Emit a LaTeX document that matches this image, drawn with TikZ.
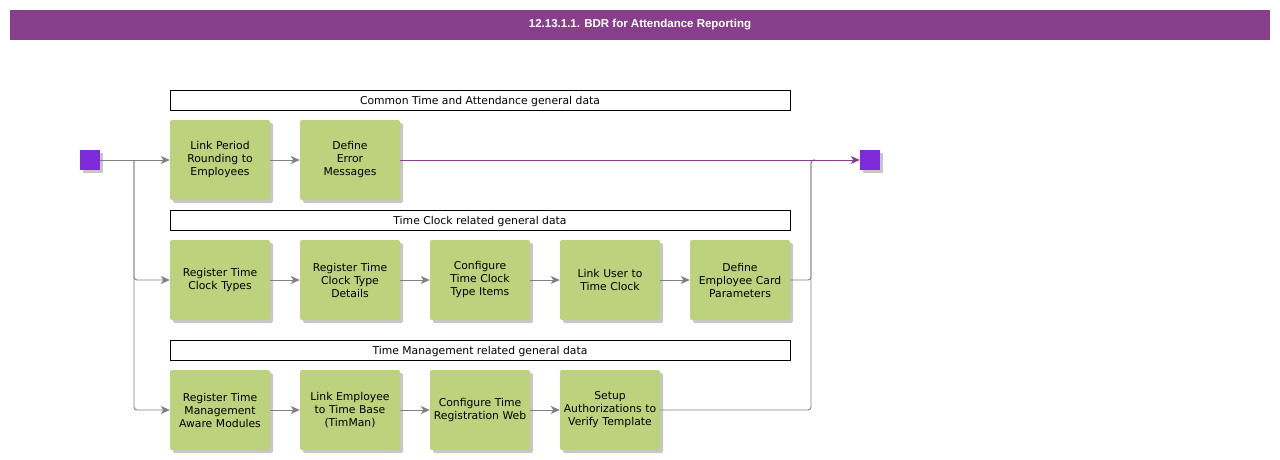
\documentclass[tikz,border=0pt]{standalone}
\usepackage{fontspec}
\setmainfont{DejaVu Sans}
\newfontfamily\titlefont{Liberation Sans}
\usetikzlibrary{shadows,arrows.meta}
\definecolor{barpurple}{HTML}{873F8B}
\definecolor{termviolet}{HTML}{7F2BDB}
\definecolor{taskgreen}{HTML}{BDD27D}
\definecolor{linegray}{HTML}{808080}
\tikzset{
  task/.style={draw=none,fill=taskgreen,rounded corners=2pt,minimum width=100pt,minimum height=80pt,
    inner sep=0pt,text width=100pt,align=center,font=\fontsize{10.8}{13}\selectfont,
    drop shadow={shadow xshift=3pt,shadow yshift=-3pt,fill=black!22,opacity=1}},
  lane/.style={draw=black,fill=white,minimum width=620pt,minimum height=20pt,inner sep=0pt,
    text height=9pt,text depth=1pt,font=\fontsize{10.8}{12}\selectfont},
  term/.style={fill=termviolet,minimum size=20pt,inner sep=0pt,
    drop shadow={shadow xshift=3pt,shadow yshift=-3pt,fill=black!22,opacity=1}},
  flow/.style={draw=linegray,line width=0.9pt,-{Stealth[length=9pt,width=8pt,inset=2.5pt]}},
  joinline/.style={draw=linegray,line width=0.9pt,rounded corners=3pt}
}
\begin{document}
\begin{tikzpicture}[x=1pt,y=-1pt]
  \useasboundingbox (0,0) rectangle (1280,460);
  \node[fill=barpurple,minimum width=1260pt,minimum height=30pt,inner sep=0pt,
    text=white,font=\titlefont\bfseries\fontsize{11.5}{13}\selectfont] (title) at (640,25)
    {12.13.1.1. BDR for Attendance Reporting};

  \node[term] (start) at (90,160) {};
  \node[term] (finish) at (870,160) {};

  \node[lane] (common) at (480,100) {Common Time and Attendance general data};
  \node[lane] (clock) at (480,220) {Time Clock related general data};
  \node[lane] (manage) at (480,350) {Time Management related general data};

  % common data
  \node[task] (lpr) at (220,160) {Link Period\\Rounding to\\Employees};
  \node[task] (dem) at (350,160) {Define\\Error\\Messages};
  % time clock
  \node[task] (rtc) at (220,280) {Register Time\\Clock Types};
  \node[task] (rtd) at (350,280) {Register Time\\Clock Type\\Details};
  \node[task] (cti) at (480,280) {Configure\\Time Clock\\Type Items};
  \node[task] (lut) at (610,280) {Link User to\\Time Clock};
  \node[task] (ecp) at (740,280) {Define\\Employee Card\\Parameters};
  % time management
  \node[task] (rtm) at (220,410) {Register Time\\Management\\Aware Modules};
  \node[task] (lte) at (350,410) {Link Employee\\to Time Base\\(TimMan)};
  \node[task] (ctr) at (480,410) {Configure Time\\Registration Web};
  \node[task] (sav) at (610,410) {Setup\\Authorizations to\\Verify Template};

  \coordinate (split) at (134,160);
  \coordinate (merge) at (811,160);

  \draw[flow] (start) -- (lpr);
  \draw[flow,rounded corners=3pt] (split) |- (rtc);
  \draw[flow,rounded corners=3pt] (split) |- (rtm);
  \draw[flow] (lpr) -- (dem);
  \foreach \a/\b in {rtc/rtd,rtd/cti,cti/lut,lut/ecp,rtm/lte,lte/ctr,ctr/sav}
    \draw[flow] (\a) -- (\b);
  \draw[joinline] (ecp.east) -- (ecp.east -| merge) -- (merge) -- ++(4,0);
  \draw[joinline] (sav.east) -- (sav.east -| merge) -- (merge) -- ++(4,0);
  \draw[draw=barpurple,line width=0.9pt,-{Stealth[length=9pt,width=8pt,inset=2.5pt]}] (dem) -- (finish);
\end{tikzpicture}
\end{document}
